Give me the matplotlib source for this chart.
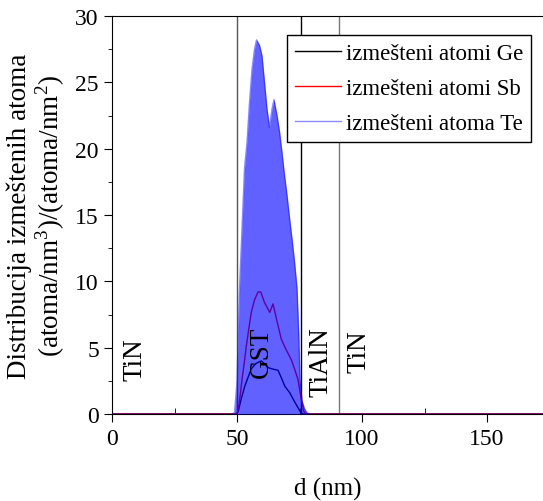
import matplotlib
matplotlib.use('Agg')
import matplotlib.pyplot as plt
from matplotlib.ticker import MultipleLocator

plt.rcParams['font.family'] = ['Liberation Serif', 'DejaVu Serif']
plt.rcParams['mathtext.fontset'] = 'custom'
plt.rcParams['mathtext.rm'] = 'Liberation Serif'

# depth (nm) and distributions
d_te = [0, 48, 49, 50, 51, 52, 53, 54, 55, 56, 57, 57.8, 59, 60, 61, 62, 63,
        64, 64.8, 66, 67, 68, 69, 70, 71, 72, 73, 74, 74.7, 75.2, 76, 77, 78,
        79, 172.4]
te = [0, 0, 0.1, 2.5, 9.5, 14, 18.5, 20.5, 23.5, 26, 27.5, 28.2, 27.8, 27,
      25, 23, 21.6, 23, 23.7, 22.5, 21.3, 19.7, 18, 16.5, 14.8, 13.2, 11.5,
      9.5, 6, 2.6, 1.0, 0.4, 0.1, 0, 0]

d_sb = [0, 49.7, 50.2, 51.1, 52, 53, 53.7, 54.7, 55.7, 57, 58.4, 59.5, 61,
        63.1, 64.4, 66, 67.7, 69.5, 71.7, 73, 74.4, 75.7, 76.7, 77.5, 172.4]
sb = [0, 0, 0.1, 1.1, 2.6, 4.0, 5.1, 6.4, 7.66, 8.6, 9.2, 9.2, 8.4, 7.66,
      8.3, 7.0, 5.65, 4.9, 4.1, 3.4, 2.6, 1.1, 0.2, 0, 0]

d_ge = [0, 49.7, 50.5, 51.5, 53.1, 54.5, 55.7, 57.5, 59.7, 61, 62.4, 64,
        66.4, 67.8, 69.1, 71.1, 73.1, 75.1, 75.8, 76.5, 172.4]
ge = [0, 0, 0.2, 1.0, 2.1, 2.8, 3.4, 3.8, 4.0, 3.8, 3.5, 3.4, 3.3, 2.7,
      2.1, 1.6, 0.9, 0.25, 0.05, 0, 0]

boundaries = [50, 75.6, 90.8]
boundary_colors = ['#555555', 'black', '#777777']
layers = ['TiN', 'GST', 'TiAlN', 'TiN']
layer_x = [9.2, 59.6, 83.6, 98.8]
layer_y = [4.2, 4.75, 4.0, 4.8]

fig = plt.figure(figsize=(5.43, 5.02), dpi=100)
ax = fig.add_axes([0.2063, 0.1733, 0.7937, 0.7928])

for xb, c in zip(boundaries, boundary_colors):
    ax.axvline(xb, color=c, lw=1.0, zorder=1)

ax.plot(d_ge, ge, color='black', lw=1.0, label='izmešteni atomi Ge', zorder=2)
ax.plot(d_sb, sb, color='red', lw=1.0, label='izmešteni atomi Sb', zorder=2)
ax.fill_between(d_te, te, 0, color='blue', alpha=0.62, lw=0, zorder=3)
ax.plot(d_te, te, color='blue', alpha=0.45, lw=1.0,
        label='izmešteni atoma Te', zorder=3)

for name, x, y in zip(layers, layer_x, layer_y):
    ax.text(x, y, name, rotation=90, ha='center', va='center',
            fontsize=19.5, zorder=4)

ax.set_xlim(0, 172.4)
ax.set_ylim(0, 30)
ax.xaxis.set_major_locator(MultipleLocator(50))
ax.xaxis.set_minor_locator(MultipleLocator(25))
ax.yaxis.set_major_locator(MultipleLocator(5))
ax.yaxis.set_minor_locator(MultipleLocator(2.5))
ax.tick_params(axis='x', which='major', direction='out', length=6,
               labelsize=17, pad=4)
ax.tick_params(axis='x', which='minor', direction='in', length=4)
ax.tick_params(axis='y', which='major', direction='out', length=6,
               labelsize=17)
ax.tick_params(axis='y', which='minor', direction='out', length=3)
ax.spines['right'].set_visible(False)

ax.set_xlabel('d (nm)', fontsize=18, labelpad=20)
ax.set_ylabel('Distribucija izmeštenih atoma\n'
              '(atoma/nm$^{3}$)/(atoma/nm$^{2}$)', fontsize=19.5, labelpad=6,
              linespacing=1.05)

leg = ax.legend(loc='upper right', bbox_to_anchor=(0.972, 0.952),
                fontsize=16.5, frameon=True, fancybox=False, framealpha=1,
                edgecolor='black', handlelength=2.0, handletextpad=0.2,
                borderpad=0.35, labelspacing=0.6, borderaxespad=0)
leg.get_frame().set_linewidth(1.0)
leg.set_zorder(5)

fig.savefig('out.png', dpi=100)
